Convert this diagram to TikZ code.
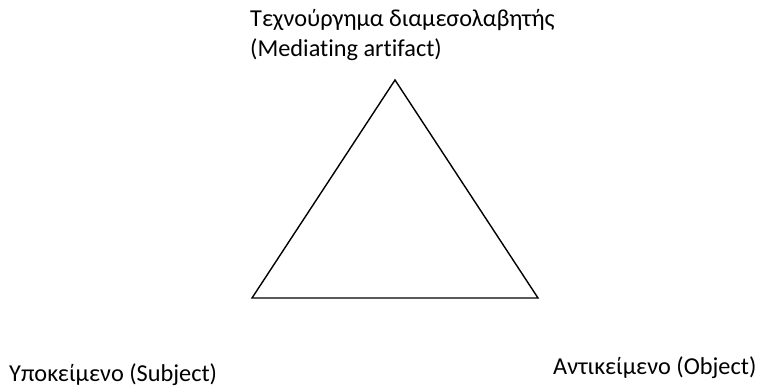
\documentclass[tikz,border=0pt]{standalone}
\usepackage{fontspec}
\setmainfont[Ligatures=NoCommon]{Carlito}
\usetikzlibrary{positioning}

\begin{document}
\begin{tikzpicture}[x=1pt, y=1pt, textlabel/.style={anchor=base west, inner sep=0pt, font=\fontsize{24.3}{30}\selectfont}]
  \useasboundingbox (0,0) rectangle (759,388);
  % Triangle corners
  \coordinate (artifact) at (395,308);
  \coordinate (subject) at (252,90);
  \coordinate (object) at (538,90);
  % Triangle
  \draw[line width=1.4pt, line join=miter] (artifact) -- (subject) -- (object) -- cycle;
  % Labels
  \node[textlabel] (artifactlabel) at (250,361) {Τεχνούργημα διαμεσολαβητής};
  \node[textlabel] (mediatinglabel) at ([yshift=-30pt]artifactlabel.base west) {(Mediating artifact)};
  \node[textlabel] (subjectlabel) at (9,7) {Υποκείμενο (Subject)};
  \node[textlabel] (objectlabel) at (553,14) {Αντικείμενο (Object)};
\end{tikzpicture}
\end{document}
